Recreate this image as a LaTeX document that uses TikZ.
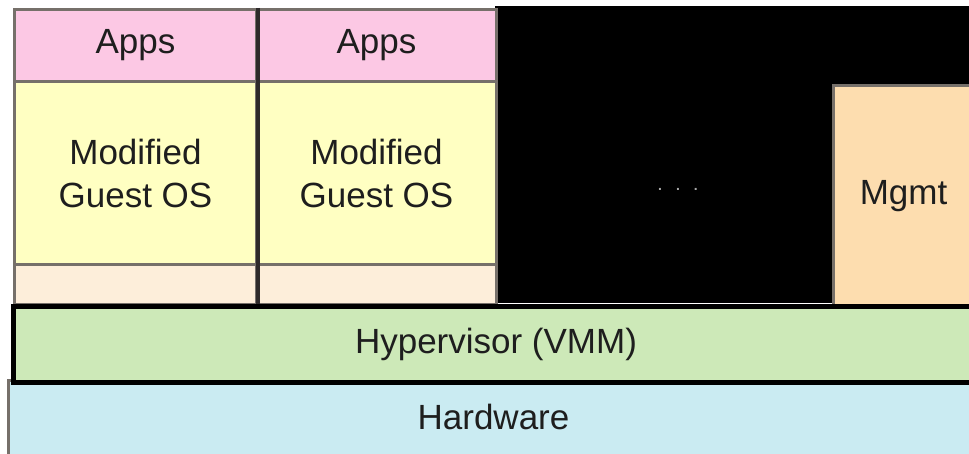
\documentclass[tikz,border=0pt]{standalone}
\usepackage{fontspec}
\setmainfont{Liberation Sans}
\definecolor{bgray}{HTML}{76706A}
\definecolor{dgray}{HTML}{2E2A2A}
\definecolor{appspink}{HTML}{FCC8E4}
\definecolor{osyellow}{HTML}{FFFFC2}
\definecolor{stpeach}{HTML}{FDEEDA}
\definecolor{mgmtpeach}{HTML}{FDDDAF}
\definecolor{hypgreen}{HTML}{CDE9B8}
\definecolor{hwblue}{HTML}{CAEBF2}
\definecolor{txt}{HTML}{1E1E1E}
\definecolor{dotgray}{HTML}{A8A8A8}
\newcommand{\lbl}{\fontsize{35}{43}\selectfont}
\tikzset{
  blk/.style={draw=bgray, line width=3pt, inner sep=0pt, anchor=north west,
    font=\lbl, align=center, text=txt},
}
\begin{document}
\begin{tikzpicture}[x=1pt,y=-1pt]
\useasboundingbox[fill=white] (0,0) rectangle (969,454);
% black area
\node[fill=black, inner sep=0pt, anchor=north west, minimum width=475pt, minimum height=297pt] (dark) at (495,6) {};
\node[text=dotgray, font=\fontsize{14}{14}\selectfont\bfseries] (dots) at (678,189) {.\hspace{14pt}.\hspace{14pt}.};
% guest columns
\node[blk, fill=appspink, minimum width=242pt, minimum height=72pt] (apps1) at (13,8) {Apps};
\node[blk, fill=appspink, minimum width=240pt, minimum height=72pt] (apps2) at (255,8) {Apps};
\node[blk, fill=osyellow, minimum width=242pt, minimum height=183pt] (os1) at (13,80) {Modified\\Guest OS};
\node[blk, fill=osyellow, minimum width=240pt, minimum height=183pt] (os2) at (255,80) {Modified\\Guest OS};
\node[blk, fill=stpeach, minimum width=242pt, minimum height=40pt] (st1) at (13,263) {};
\node[blk, fill=stpeach, minimum width=240pt, minimum height=40pt] (st2) at (255,263) {};
\draw[dgray, line width=4.5pt] (apps1.north east) -- (st1.south east);
% management domain
\node[blk, fill=mgmtpeach, minimum width=145pt, minimum height=221pt] (mgmt) at (832,84) {Mgmt\hspace*{5pt}};
% hypervisor and hardware
\node[blk, fill=hwblue, minimum width=970pt, minimum height=80pt] (hw) at (7,379) {\raisebox{8pt}{Hardware}};
\node[blk, draw=black, line width=5pt, fill=hypgreen, minimum width=965pt, minimum height=76pt] (hyp) at (11,304) {Hypervisor (VMM)};
\end{tikzpicture}
\end{document}
